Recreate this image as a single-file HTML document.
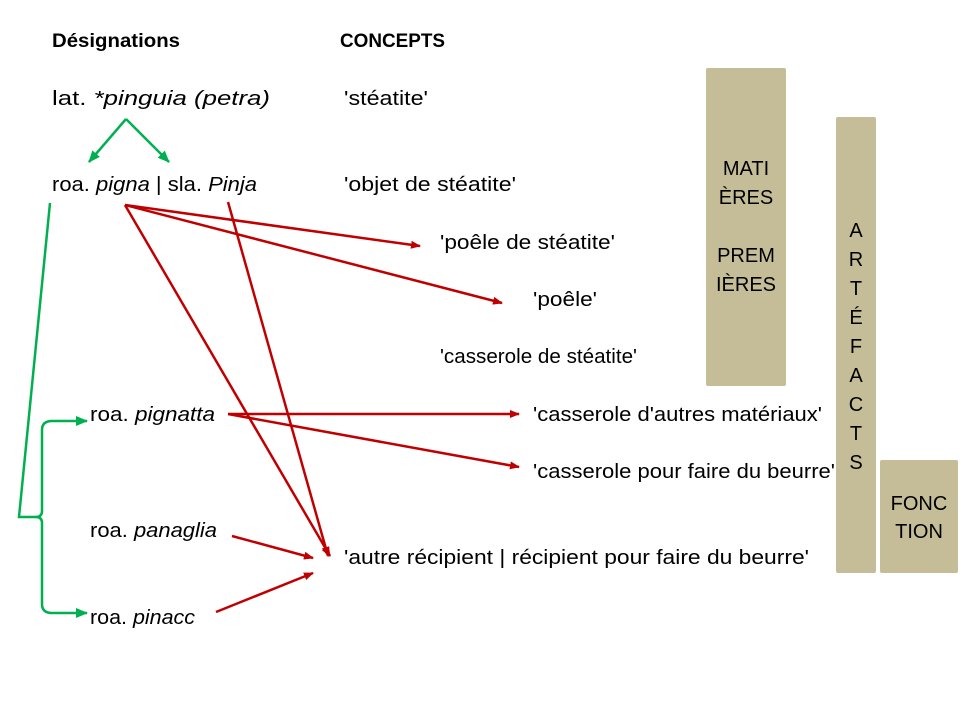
<!DOCTYPE html>
<html><head><meta charset="utf-8"><style>html,body{margin:0;padding:0;background:#fff}svg{display:block}</style></head>
<body>
<svg width="960" height="720" xmlns="http://www.w3.org/2000/svg" font-family="Liberation Sans, sans-serif" font-size="20" fill="#000">
<defs>
<marker id="r" markerWidth="10" markerHeight="8" refX="9" refY="4" orient="auto" markerUnits="userSpaceOnUse"><path d="M0,0 L10,4 L0,8 Z" fill="#c00000"/></marker>
<marker id="g" markerWidth="12" markerHeight="10" refX="11" refY="5" orient="auto" markerUnits="userSpaceOnUse"><path d="M0,0 L12,5 L0,10 Z" fill="#00b050"/></marker>
</defs>
<rect x="706" y="68" width="80" height="318" rx="2" fill="#c4bd97"/>
<rect x="836" y="117" width="40" height="456" rx="2" fill="#c4bd97"/>
<rect x="880" y="460" width="78" height="113" rx="2" fill="#c4bd97"/>
<g text-anchor="middle" font-size="20">
<text x="746" y="175">MATI</text><text x="746" y="204">ÈRES</text>
<text x="746" y="262">PREM</text><text x="746" y="291">IÈRES</text>
<text x="856" y="237">A</text><text x="856" y="266">R</text><text x="856" y="295">T</text><text x="856" y="324">É</text><text x="856" y="353">F</text><text x="856" y="382">A</text><text x="856" y="411">C</text><text x="856" y="440">T</text><text x="856" y="469">S</text>
<text x="919" y="510">FONC</text><text x="919" y="538">TION</text>
</g>
<text x="52" y="47" font-weight="bold" font-size="19" textLength="128" lengthAdjust="spacingAndGlyphs">Désignations</text>
<text x="340" y="47" font-weight="bold" font-size="19" textLength="105" lengthAdjust="spacingAndGlyphs">CONCEPTS</text>
<text x="52" y="105" textLength="218" lengthAdjust="spacingAndGlyphs">lat. <tspan font-style="italic">*pinguia (petra)</tspan></text>
<text x="344" y="105" textLength="84" lengthAdjust="spacingAndGlyphs">'stéatite'</text>
<text x="52" y="191" textLength="205" lengthAdjust="spacingAndGlyphs">roa. <tspan font-style="italic">pigna</tspan> | sla. <tspan font-style="italic">Pinja</tspan></text>
<text x="344" y="191" textLength="172" lengthAdjust="spacingAndGlyphs">'objet de stéatite'</text>
<text x="440" y="249" textLength="175" lengthAdjust="spacingAndGlyphs">'poêle de stéatite'</text>
<text x="533" y="306" textLength="64" lengthAdjust="spacingAndGlyphs">'poêle'</text>
<text x="440" y="363" textLength="197" lengthAdjust="spacingAndGlyphs">'casserole de stéatite'</text>
<text x="90" y="421" textLength="125" lengthAdjust="spacingAndGlyphs">roa. <tspan font-style="italic">pignatta</tspan></text>
<text x="533" y="421" textLength="289" lengthAdjust="spacingAndGlyphs">'casserole d'autres matériaux'</text>
<text x="533" y="478" textLength="302" lengthAdjust="spacingAndGlyphs">'casserole pour faire du beurre'</text>
<text x="90" y="537" textLength="127" lengthAdjust="spacingAndGlyphs">roa. <tspan font-style="italic">panaglia</tspan></text>
<text x="344" y="564" textLength="465" lengthAdjust="spacingAndGlyphs">'autre récipient | récipient pour faire du beurre'</text>
<text x="90" y="624" textLength="105" lengthAdjust="spacingAndGlyphs">roa. <tspan font-style="italic">pinacc</tspan></text>
<g stroke="#00b050" stroke-width="2.5" fill="none">
<line x1="126" y1="119" x2="89" y2="162" marker-end="url(#g)"/>
<line x1="126" y1="119" x2="169" y2="162" marker-end="url(#g)"/>
<path d="M50,203 L19,517 L36,517 Q42,517 42,511 L42,430 Q42,421 52,421 L87,421" marker-end="url(#g)"/>
<path d="M36,517 Q42,517 42,523 L42,604 Q42,613 52,613 L87,613" marker-end="url(#g)"/>
</g>
<g stroke="#c00000" stroke-width="2.5" fill="none">
<line x1="125" y1="205" x2="420" y2="246" marker-end="url(#r)"/>
<line x1="125" y1="205" x2="502" y2="303" marker-end="url(#r)"/>
<line x1="125" y1="205" x2="330" y2="556" marker-end="url(#r)"/>
<line x1="228" y1="202" x2="328" y2="556" marker-end="url(#r)"/>
<line x1="228" y1="414" x2="519" y2="414" marker-end="url(#r)"/>
<line x1="228" y1="414" x2="519" y2="467" marker-end="url(#r)"/>
<line x1="232" y1="536" x2="313" y2="558" marker-end="url(#r)"/>
<line x1="216" y1="612" x2="313" y2="573" marker-end="url(#r)"/>
</g>
</svg>
</body></html>
